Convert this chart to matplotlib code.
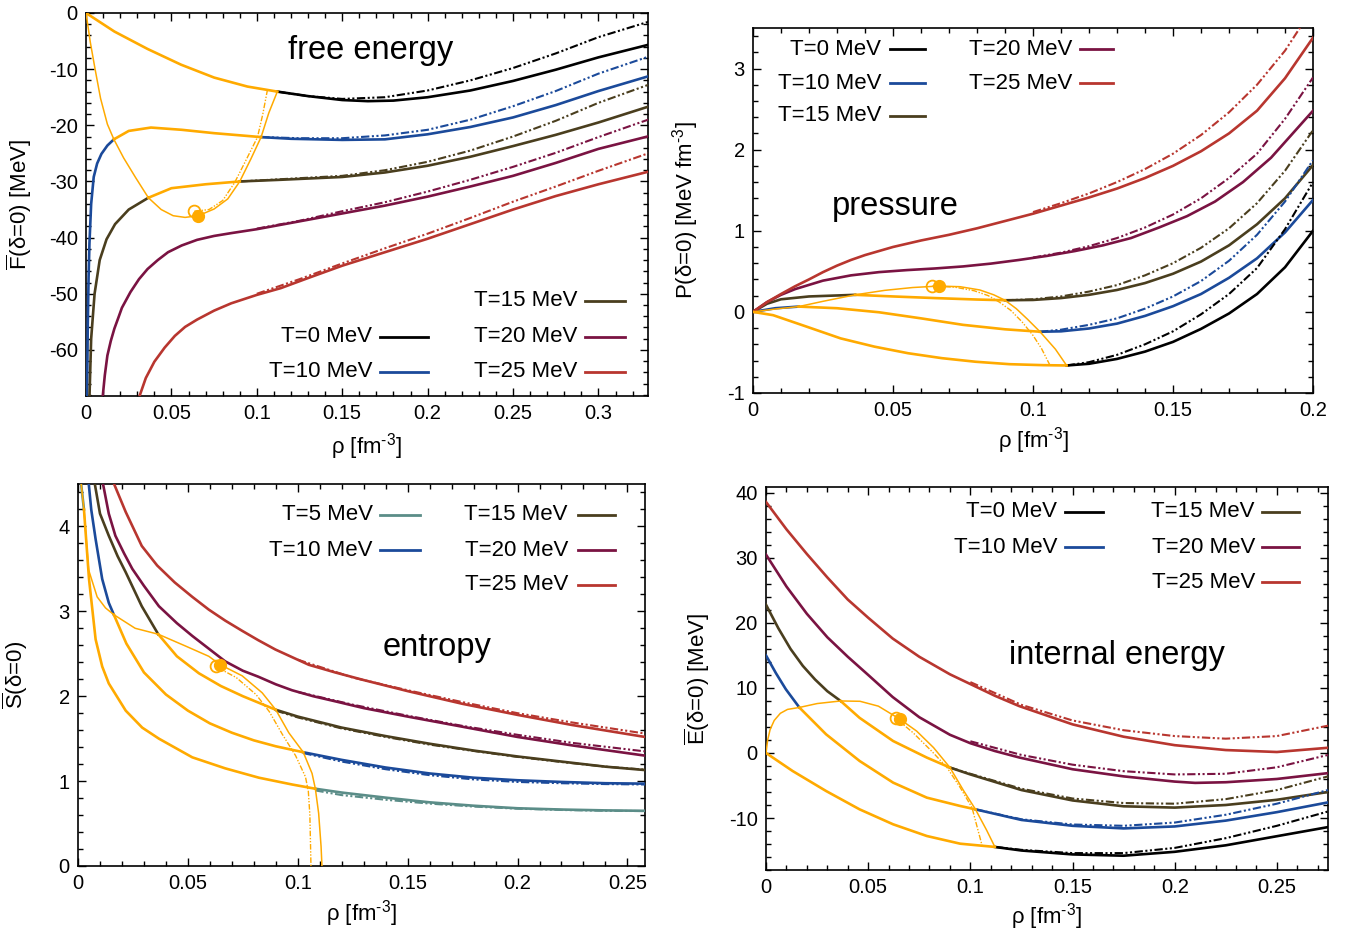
import numpy as np
from matplotlib import pyplot as plt
from matplotlib.ticker import MultipleLocator, FuncFormatter

plt.rcParams["font.family"] = ["Liberation Sans", "DejaVu Sans"]
plt.rcParams["mathtext.fontset"] = "custom"
plt.rcParams["mathtext.rm"] = "Liberation Sans"
plt.rcParams["mathtext.it"] = "Liberation Sans:italic"
plt.rcParams["axes.unicode_minus"] = False

# %% data
# spinodal switch densities per temperature (orange inside)
spin_T = [0, 5, 10, 15]
spin_lo = [0.0, 0.0027, 0.0163, 0.0365]
spin_hi = [0.112, 0.108, 0.1025, 0.09]

# ---- free energy
F_T0_rho = [0, 0.0166, 0.036, 0.0556, 0.075, 0.0945, 0.112, 0.13, 0.15, 0.165, 0.18, 0.2, 0.225, 0.25, 0.275, 0.3, 0.33]
F_T0 = [0, -3.3, -6.4, -9.2, -11.5, -13.1, -14.0, -14.8, -15.5, -15.7, -15.6, -15.0, -13.8, -12.1, -10.1, -7.9, -5.6]
F_T0_alt_rho = [0.112, 0.13, 0.15, 0.175, 0.2, 0.225, 0.25, 0.275, 0.3, 0.33]
F_T0_alt = [-14.0, -14.8, -15.3, -15.0, -13.8, -12.0, -9.8, -7.2, -4.3, -1.5]

F_T10_rho = [0.0006, 0.001, 0.0015, 0.002, 0.003, 0.0045, 0.0065, 0.009, 0.0125, 0.0163, 0.025, 0.038, 0.056, 0.075,
             0.1025, 0.12, 0.15, 0.175, 0.2, 0.225, 0.25, 0.275, 0.3, 0.33]
F_T10 = [-68.5, -56, -47, -41, -34, -29.2, -26.8, -25.1, -23.6, -22.5, -21.0, -20.4, -20.8, -21.4,
         -22.1, -22.4, -22.6, -22.5, -21.6, -20.3, -18.6, -16.4, -13.9, -11.2]
F_T10_alt_rho = [0.1025, 0.125, 0.15, 0.175, 0.2, 0.225, 0.25, 0.275, 0.3, 0.33]
F_T10_alt = [-22.1, -22.3, -22.3, -21.8, -20.8, -19.0, -16.6, -13.9, -10.8, -7.7]

F_T15_rho = [0.002, 0.003, 0.005, 0.008, 0.012, 0.017, 0.025, 0.0365, 0.05, 0.07, 0.09, 0.114, 0.15, 0.175, 0.2,
             0.225, 0.25, 0.275, 0.3, 0.33]
F_T15 = [-68.5, -58, -50, -44, -40.3, -37.6, -35.0, -32.9, -31.2, -30.5, -30.0, -29.7, -29.2, -28.4, -27.2,
         -25.6, -23.7, -21.7, -19.5, -16.6]
F_T15_alt_rho = [0.09, 0.114, 0.15, 0.175, 0.2, 0.225, 0.25, 0.275, 0.3, 0.33]
F_T15_alt = [-30.0, -29.6, -29.0, -28.0, -26.5, -24.5, -22.0, -19.2, -16.0, -12.7]

F_T20_rho = [0.0097, 0.011, 0.0125, 0.0145, 0.0166, 0.019, 0.021, 0.026, 0.031, 0.036, 0.042, 0.048, 0.056, 0.065,
             0.075, 0.085, 0.1, 0.125, 0.15, 0.175, 0.2, 0.225, 0.25, 0.275, 0.3, 0.33]
F_T20 = [-68.5, -64.5, -61, -58.4, -56.2, -54.2, -52.5, -49.7, -47.4, -45.6, -44.0, -42.6, -41.4, -40.4,
         -39.7, -39.2, -38.5, -37.1, -35.7, -34.3, -32.7, -30.9, -29.0, -26.7, -24.2, -21.9]
F_T20_alt_rho = [0.1, 0.125, 0.15, 0.175, 0.2, 0.225, 0.25, 0.275, 0.3, 0.33]
F_T20_alt = [-38.4, -37.0, -35.3, -33.7, -31.8, -29.7, -27.4, -24.9, -22.1, -18.9]

F_T25_rho = [0.031, 0.035, 0.04, 0.046, 0.052, 0.058, 0.065, 0.075, 0.085, 0.1, 0.114, 0.13, 0.15, 0.175, 0.2, 0.225,
             0.25, 0.275, 0.3, 0.33]
F_T25 = [-68.5, -65, -62.1, -59.6, -57.5, -55.9, -54.6, -53.0, -51.7, -50.2, -49.0, -47.2, -45.0, -42.6, -40.2,
         -37.6, -35.0, -32.6, -30.5, -28.2]
F_T25_alt_rho = [0.1, 0.125, 0.15, 0.175, 0.2, 0.225, 0.25, 0.275, 0.3, 0.33]
F_T25_alt = [-50.0, -47.4, -44.6, -41.9, -39.3, -36.5, -33.6, -30.9, -28.1, -24.9]

F_spin_rho = [0, 0.0025, 0.0053, 0.0085, 0.0125, 0.0163, 0.022, 0.029, 0.0365, 0.044, 0.051, 0.058, 0.0657,
              0.075, 0.083, 0.09, 0.0965, 0.1025, 0.107, 0.112]
F_spin = [0, -5.2, -10, -15.2, -19.8, -22.5, -25.8, -29.3, -32.9, -35.0, -36.1, -36.4, -36.1,
          -34.9, -33.1, -30.0, -26.0, -22.1, -17.8, -14.0]
F_spin_alt_rho = [0.0634, 0.072, 0.08, 0.087, 0.0935, 0.1004, 0.1035, 0.1062]
F_spin_alt = [-35.3, -35.0, -33.4, -30.2, -26.3, -22.1, -18.0, -13.7]
F_crit = [0.0657, -36.1]
F_crit_alt = [0.0634, -35.3]

# ---- pressure
P_T0_rho = [0, 0.0072, 0.0193, 0.0313, 0.0434, 0.0554, 0.0675, 0.0795, 0.0916, 0.1036, 0.112, 0.12, 0.13, 0.14,
            0.15, 0.16, 0.17, 0.18, 0.19, 0.2]
P_T0 = [0, -0.041, -0.184, -0.327, -0.429, -0.51, -0.571, -0.615, -0.645, -0.657, -0.661, -0.64, -0.58, -0.49,
        -0.37, -0.21, -0.02, 0.22, 0.55, 1.0]
P_T0_alt_rho = [0.112, 0.12, 0.13, 0.14, 0.15, 0.16, 0.17, 0.18, 0.19, 0.2]
P_T0_alt = [-0.661, -0.62, -0.53, -0.4, -0.24, -0.03, 0.22, 0.54, 1.02, 1.6]

P_T10_rho = [0, 0.008, 0.0163, 0.03, 0.045, 0.06, 0.075, 0.09, 0.1025, 0.11, 0.12, 0.13, 0.14, 0.15, 0.16, 0.17,
             0.18, 0.19, 0.2]
P_T10 = [0, 0.045, 0.065, 0.045, -0.005, -0.08, -0.16, -0.215, -0.245, -0.24, -0.205, -0.145, -0.05, 0.07, 0.22,
         0.42, 0.66, 0.98, 1.38]
P_T10_alt_rho = [0.1025, 0.11, 0.12, 0.13, 0.14, 0.15, 0.16, 0.17, 0.18, 0.19, 0.2]
P_T10_alt = [-0.245, -0.22, -0.16, -0.08, 0.04, 0.19, 0.38, 0.63, 0.95, 1.36, 1.87]

P_T15_rho = [0, 0.005, 0.01, 0.02, 0.0365, 0.05, 0.065, 0.08, 0.09, 0.1, 0.11, 0.12, 0.13, 0.14, 0.15, 0.16,
             0.17, 0.18, 0.19, 0.2]
P_T15 = [0, 0.1, 0.155, 0.19, 0.21, 0.19, 0.17, 0.152, 0.143, 0.147, 0.17, 0.21, 0.27, 0.355, 0.47, 0.62,
         0.82, 1.08, 1.4, 1.81]
P_T15_alt_rho = [0.09, 0.1, 0.11, 0.12, 0.13, 0.14, 0.15, 0.16, 0.17, 0.18, 0.19, 0.2]
P_T15_alt = [0.143, 0.155, 0.19, 0.25, 0.33, 0.45, 0.6, 0.79, 1.03, 1.34, 1.74, 2.24]

P_T20_rho = [0, 0.005, 0.01, 0.015, 0.025, 0.035, 0.045, 0.055, 0.065, 0.075, 0.085, 0.095, 0.105, 0.115, 0.125,
             0.135, 0.145, 0.155, 0.165, 0.175, 0.185, 0.2]
P_T20 = [0, 0.12, 0.21, 0.28, 0.385, 0.45, 0.49, 0.515, 0.535, 0.56, 0.595, 0.64, 0.69, 0.75, 0.82,
         0.91, 1.04, 1.18, 1.36, 1.6, 1.9, 2.48]
P_T20_alt_rho = [0.1, 0.11, 0.12, 0.13, 0.14, 0.15, 0.16, 0.17, 0.18, 0.19, 0.2]
P_T20_alt = [0.67, 0.73, 0.81, 0.91, 1.04, 1.2, 1.4, 1.65, 1.95, 2.38, 2.89]

P_T25_rho = [0, 0.005, 0.01, 0.015, 0.02, 0.025, 0.03, 0.035, 0.04, 0.05, 0.06, 0.07, 0.08, 0.09, 0.1, 0.11, 0.12,
             0.13, 0.14, 0.15, 0.16, 0.17, 0.18, 0.19, 0.2]
P_T25 = [0, 0.12, 0.22, 0.315, 0.4, 0.49, 0.57, 0.64, 0.7, 0.8, 0.88, 0.95, 1.03, 1.12, 1.21, 1.31, 1.41,
         1.52, 1.65, 1.8, 1.98, 2.2, 2.48, 2.88, 3.38]
P_T25_alt_rho = [0.1, 0.11, 0.12, 0.13, 0.14, 0.15, 0.16, 0.17, 0.18, 0.19, 0.2]
P_T25_alt = [1.23, 1.34, 1.46, 1.6, 1.76, 1.95, 2.18, 2.46, 2.8, 3.22, 3.75]

P_spin_rho = [0, 0.008, 0.0163, 0.025, 0.0365, 0.047, 0.057, 0.0663, 0.074, 0.081, 0.086, 0.09, 0.094, 0.098,
              0.1025, 0.108, 0.112]
P_spin = [0, 0.035, 0.065, 0.13, 0.21, 0.265, 0.3, 0.318, 0.31, 0.27, 0.21, 0.143, 0.04, -0.09,
          -0.245, -0.46, -0.661]
P_spin_alt_rho = [0.0639, 0.072, 0.079, 0.084, 0.088, 0.092, 0.096, 0.1, 0.103, 0.106]
P_spin_alt = [0.316, 0.305, 0.26, 0.2, 0.12, 0.02, -0.12, -0.29, -0.45, -0.655]
P_crit = [0.0663, 0.318]
P_crit_alt = [0.0639, 0.316]

# ---- entropy
S_T5_rho = [0.0012, 0.0027, 0.005, 0.008, 0.011, 0.014, 0.0217, 0.0292, 0.0368, 0.052, 0.067, 0.0823, 0.0974,
            0.108, 0.12, 0.14, 0.16, 0.18, 0.2, 0.22, 0.24, 0.258]
S_T5 = [4.55, 4.2, 3.38, 2.67, 2.35, 2.15, 1.83, 1.63, 1.5, 1.28, 1.15, 1.04, 0.96,
        0.91, 0.865, 0.805, 0.75, 0.71, 0.68, 0.665, 0.655, 0.65]
S_T5_alt_rho = [0.108, 0.12, 0.14, 0.16, 0.18, 0.2, 0.22, 0.24, 0.258]
S_T5_alt = [0.89, 0.835, 0.78, 0.735, 0.7, 0.675, 0.66, 0.65, 0.647]

S_T10_rho = [0.0047, 0.006, 0.008, 0.011, 0.014, 0.0163, 0.022, 0.03, 0.04, 0.05, 0.06, 0.07, 0.08, 0.09, 0.1025,
             0.12, 0.14, 0.16, 0.18, 0.2, 0.22, 0.24, 0.258]
S_T10 = [4.55, 4.2, 3.85, 3.38, 3.1, 2.96, 2.62, 2.28, 2.02, 1.83, 1.68, 1.57, 1.48, 1.41, 1.34,
         1.25, 1.16, 1.09, 1.04, 1.01, 0.99, 0.975, 0.97]
S_T10_alt_rho = [0.1025, 0.12, 0.14, 0.16, 0.18, 0.2, 0.22, 0.24, 0.258]
S_T10_alt = [1.33, 1.23, 1.14, 1.07, 1.02, 0.99, 0.975, 0.965, 0.96]

S_T15_rho = [0.0073, 0.01, 0.014, 0.018, 0.0217, 0.029, 0.0365, 0.045, 0.055, 0.065, 0.075, 0.09, 0.1, 0.12, 0.14,
             0.16, 0.18, 0.2, 0.22, 0.24, 0.258]
S_T15 = [4.55, 4.15, 3.89, 3.65, 3.46, 3.06, 2.73, 2.47, 2.27, 2.12, 2.0, 1.84, 1.76, 1.63, 1.53,
         1.44, 1.36, 1.29, 1.23, 1.17, 1.13]
S_T15_alt_rho = [0.09, 0.1, 0.12, 0.14, 0.16, 0.18, 0.2, 0.22, 0.24, 0.258]
S_T15_alt = [1.83, 1.75, 1.62, 1.52, 1.43, 1.355, 1.285, 1.225, 1.17, 1.135]

S_T20_rho = [0.011, 0.014, 0.017, 0.021, 0.0247, 0.03, 0.0368, 0.045, 0.052, 0.06, 0.067, 0.075, 0.082, 0.09,
             0.0974, 0.107, 0.117, 0.13, 0.15, 0.175, 0.2, 0.225, 0.258]
S_T20 = [4.55, 4.15, 3.89, 3.68, 3.5, 3.3, 3.06, 2.86, 2.71, 2.55, 2.41, 2.3, 2.23, 2.14,
         2.07, 2.0, 1.94, 1.86, 1.76, 1.64, 1.52, 1.42, 1.30]
S_T20_alt_rho = [0.1, 0.125, 0.15, 0.175, 0.2, 0.225, 0.258]
S_T20_alt = [2.05, 1.9, 1.77, 1.65, 1.545, 1.45, 1.35]

S_T25_rho = [0.0156, 0.0217, 0.029, 0.036, 0.044, 0.052, 0.0595, 0.067, 0.0747, 0.082, 0.0898, 0.0974, 0.105,
             0.117, 0.13, 0.15, 0.175, 0.2, 0.225, 0.258]
S_T25 = [4.55, 4.17, 3.77, 3.54, 3.34, 3.17, 3.02, 2.89, 2.77, 2.66, 2.55, 2.46, 2.37,
         2.28, 2.19, 2.06, 1.91, 1.78, 1.66, 1.52]
S_T25_alt_rho = [0.1, 0.125, 0.15, 0.175, 0.2, 0.225, 0.258]
S_T25_alt = [2.43, 2.22, 2.07, 1.93, 1.8, 1.69, 1.56]

S_spin_rho = [0.001, 0.0027, 0.0048, 0.0087, 0.0125, 0.0163, 0.026, 0.0365, 0.049, 0.0595, 0.0648, 0.0747, 0.0838,
              0.09, 0.0959, 0.1025, 0.1065, 0.108, 0.1095, 0.1106, 0.111]
S_spin = [4.6, 4.2, 3.49, 3.17, 3.04, 2.96, 2.8, 2.73, 2.59, 2.47, 2.37, 2.24, 2.04,
          1.84, 1.57, 1.34, 1.09, 0.91, 0.62, 0.23, 0.0]
S_spin_alt_rho = [0.0626, 0.072, 0.081, 0.087, 0.093, 0.099, 0.1035, 0.1048, 0.1055, 0.1058, 0.106]
S_spin_alt = [2.35, 2.22, 2.02, 1.82, 1.55, 1.3, 1.05, 0.88, 0.6, 0.25, 0.0]
S_crit = [0.0648, 2.37]
S_crit_alt = [0.0626, 2.35]

# ---- internal energy
E_T0_rho = [0, 0.013, 0.0294, 0.0458, 0.0622, 0.0787, 0.095, 0.112, 0.125, 0.15, 0.175, 0.2, 0.225, 0.25, 0.275]
E_T0 = [0, -2.77, -5.85, -8.67, -10.97, -12.77, -13.95, -14.45, -15.0, -15.6, -15.8, -15.2, -14.2, -12.8, -11.4]
E_T0_alt_rho = [0.112, 0.125, 0.15, 0.175, 0.2, 0.225, 0.25, 0.275]
E_T0_alt = [-14.45, -14.9, -15.4, -15.4, -14.6, -13.1, -11.2, -9.0]

E_T10_rho = [0, 0.0048, 0.0097, 0.0163, 0.0294, 0.0458, 0.0622, 0.0787, 0.095, 0.1025, 0.125, 0.15, 0.175, 0.2,
             0.225, 0.25, 0.275]
E_T10 = [15.0, 12.3, 9.8, 7.0, 2.87, -1.23, -4.56, -6.87, -8.15, -8.67, -10.3, -11.2, -11.6, -11.3,
         -10.4, -9.1, -7.6]
E_T10_alt_rho = [0.1025, 0.125, 0.15, 0.175, 0.2, 0.225, 0.25, 0.275]
E_T10_alt = [-8.67, -10.2, -11.0, -11.2, -10.7, -9.5, -7.8, -5.7]

E_T15_rho = [0, 0.006, 0.012, 0.018, 0.024, 0.03, 0.0365, 0.0458, 0.0622, 0.0787, 0.09, 0.1, 0.125, 0.15, 0.175,
             0.2, 0.225, 0.25, 0.275]
E_T15 = [22.8, 19.2, 16.0, 13.4, 11.3, 9.5, 8.0, 5.4, 1.84, -0.71, -2.24, -3.3, -5.7, -7.3, -8.2,
         -8.4, -8.0, -7.2, -6.0]
E_T15_alt_rho = [0.09, 0.1, 0.125, 0.15, 0.175, 0.2, 0.225, 0.25, 0.275]
E_T15_alt = [-2.24, -3.2, -5.5, -7.0, -7.7, -7.8, -7.1, -5.7, -3.6]

E_T20_rho = [0, 0.01, 0.02, 0.03, 0.04, 0.05, 0.062, 0.075, 0.09, 0.1, 0.112, 0.124, 0.15, 0.175, 0.2, 0.21,
             0.225, 0.25, 0.275]
E_T20 = [30.5, 25.6, 21.4, 17.8, 14.8, 12.0, 8.6, 5.5, 2.8, 1.5, 0.3, -0.7, -2.5, -3.6, -4.4, -4.6,
         -4.5, -4.0, -3.1]
E_T20_alt_rho = [0.1, 0.125, 0.15, 0.175, 0.2, 0.225, 0.25, 0.275]
E_T20_alt = [1.8, -0.3, -1.8, -2.8, -3.3, -3.2, -2.2, -0.3]

E_T25_rho = [0, 0.01, 0.02, 0.03, 0.04, 0.05, 0.062, 0.075, 0.09, 0.1, 0.112, 0.124, 0.15, 0.175, 0.2, 0.225,
             0.25, 0.275]
E_T25 = [38.6, 34.4, 30.6, 27.0, 23.6, 20.8, 17.6, 14.8, 12.1, 10.6, 8.8, 7.2, 4.4, 2.5, 1.2, 0.45,
         0.15, 0.8]
E_T25_alt_rho = [0.1, 0.125, 0.15, 0.175, 0.2, 0.225, 0.25, 0.275]
E_T25_alt = [10.9, 7.4, 5.0, 3.5, 2.6, 2.2, 2.6, 4.2]

E_spin_rho = [0, 0.0008, 0.002, 0.004, 0.007, 0.0105, 0.0163, 0.025, 0.0365, 0.046, 0.055, 0.0655, 0.0737, 0.082,
              0.09, 0.0967, 0.1025, 0.108, 0.112]
E_spin = [0, 2.0, 3.6, 5.0, 6.1, 6.7, 7.0, 7.6, 8.0, 7.95, 7.2, 5.2, 3.37, 0.82,
          -2.24, -5.8, -8.67, -11.9, -14.45]
E_spin_alt_rho = [0.0635, 0.072, 0.081, 0.0885, 0.095, 0.1008, 0.1057]
E_spin_alt = [5.35, 3.1, 0.3, -2.2, -5.3, -8.4, -14.2]
E_crit = [0.0655, 5.2]
E_crit_alt = [0.0635, 5.35]

# %% styles
T_colors = {0: "#000000", 5: "#5b8d88", 10: "#1b4a9a", 15: "#4a3e1e", 20: "#7a1342", 25: "#b8362f"}
ORANGE = "#ffaa00"
LW = 1.9
ALT_DASH = [4, 1.2, 1, 1.2, 1, 1.2]
XLABEL = "ρ [fm$^{\\rm \u2010 3}$]"


def draw_curve(ax, rho, val, T):
    rho = np.array(rho)
    val = np.array(val)
    c = T_colors[T]
    if T in spin_T:
        i = spin_T.index(T)
        lo, hi = spin_lo[i], spin_hi[i]
        low = rho <= lo
        mid = (rho >= lo) & (rho <= hi)
        high = rho >= hi
        if low.sum() > 1:
            ax.plot(rho[low], val[low], color=c, lw=LW, zorder=3)
        ax.plot(rho[high], val[high], color=c, lw=LW, zorder=3)
        ax.plot(rho[mid], val[mid], color=ORANGE, lw=LW, zorder=5)
    else:
        ax.plot(rho, val, color=c, lw=LW, zorder=3)


def draw_alt(ax, rho, val, T):
    ax.plot(rho, val, color=T_colors[T], lw=1.5, dashes=ALT_DASH, zorder=4)


def draw_spinodal(ax, rho, val, rho_alt, val_alt, crit, crit_alt):
    ax.plot(rho, val, color=ORANGE, lw=1.1, zorder=6)
    ax.plot(rho_alt, val_alt, color=ORANGE, lw=1.0, dashes=ALT_DASH, zorder=6)
    ax.plot(crit_alt[0], crit_alt[1], "o", ms=8.5, mfc="none", mec=ORANGE, mew=1.3, zorder=7)
    ax.plot(crit[0], crit[1], "o", ms=8.5, color=ORANGE, zorder=7)


def setup(ax, xlim, ylim, xmaj, xmin, ymaj, ymin):
    ax.set_xlim(*xlim)
    ax.set_ylim(*ylim)
    ax.xaxis.set_major_locator(MultipleLocator(xmaj))
    ax.xaxis.set_minor_locator(MultipleLocator(xmin))
    ax.yaxis.set_major_locator(MultipleLocator(ymaj))
    ax.yaxis.set_minor_locator(MultipleLocator(ymin))
    fmt = FuncFormatter(lambda v, p: "%g" % (round(v, 6) + 0.0))
    ax.xaxis.set_major_formatter(fmt)
    ax.yaxis.set_major_formatter(fmt)
    ax.tick_params(which="both", direction="in", top=True, right=True, labelsize=14.5, width=1.0)
    ax.tick_params(which="major", length=6, pad=6)
    ax.tick_params(which="minor", length=3.5)
    for s in ax.spines.values():
        s.set_linewidth(1.2)


def legend_entry(ax, x_text, x0, x1, y, T):
    ax.text(x_text, y, "T=%d MeV" % T, transform=ax.transAxes, ha="right", va="center", fontsize=16)
    ax.plot([x0, x1], [y, y], transform=ax.transAxes, color=T_colors[T], lw=2.0)


def legend(ax, cols, rows, entries):
    # cols: [(text_right, line_start, line_end), ...], entries: (col, row, T)
    for col, row, T in entries:
        xt, x0, x1 = cols[col]
        legend_entry(ax, xt, x0, x1, rows[row], T)


fig = plt.figure(figsize=(13.57, 9.35), dpi=100)

# %% free energy
ax = fig.add_axes([0.0634, 0.5765, 0.4141, 0.4096])
for rho, val, T in [(F_T0_rho, F_T0, 0), (F_T10_rho, F_T10, 10), (F_T15_rho, F_T15, 15),
                    (F_T20_rho, F_T20, 20), (F_T25_rho, F_T25, 25)]:
    draw_curve(ax, rho, val, T)
for rho, val, T in [(F_T0_alt_rho, F_T0_alt, 0), (F_T10_alt_rho, F_T10_alt, 10), (F_T15_alt_rho, F_T15_alt, 15),
                    (F_T20_alt_rho, F_T20_alt, 20), (F_T25_alt_rho, F_T25_alt, 25)]:
    draw_alt(ax, rho, val, T)
draw_spinodal(ax, F_spin_rho, F_spin, F_spin_alt_rho, F_spin_alt, F_crit, F_crit_alt)
setup(ax, (0, 0.329), (-68.2, 0), 0.05, 0.01, 10, 2)
ax.set_xlabel(XLABEL, fontsize=16)
ax.set_ylabel(r"$\overline{\rm F}$(δ=0) [MeV]", fontsize=16)
ax.xaxis.set_label_coords(0.5, -0.092)
ax.yaxis.set_label_coords(-0.093, 0.5)
ax.text(0.507, 0.903, "free energy", transform=ax.transAxes, ha="center", va="center", fontsize=23.5)
legend(ax, [(0.509, 0.523, 0.609), (0.874, 0.888, 0.959)], [0.248, 0.154, 0.063],
       [(1, 0, 15), (0, 1, 0), (1, 1, 20), (0, 2, 10), (1, 2, 25)])

# %% pressure
ax = fig.add_axes([0.5549, 0.5797, 0.4127, 0.3904])
for rho, val, T in [(P_T0_rho, P_T0, 0), (P_T10_rho, P_T10, 10), (P_T15_rho, P_T15, 15),
                    (P_T20_rho, P_T20, 20), (P_T25_rho, P_T25, 25)]:
    draw_curve(ax, rho, val, T)
for rho, val, T in [(P_T0_alt_rho, P_T0_alt, 0), (P_T10_alt_rho, P_T10_alt, 10), (P_T15_alt_rho, P_T15_alt, 15),
                    (P_T20_alt_rho, P_T20_alt, 20), (P_T25_alt_rho, P_T25_alt, 25)]:
    draw_alt(ax, rho, val, T)
draw_spinodal(ax, P_spin_rho, P_spin, P_spin_alt_rho, P_spin_alt, P_crit, P_crit_alt)
setup(ax, (0, 0.2), (-1, 3.5), 0.05, 0.01, 1, 0.2)
ax.set_xlabel(XLABEL, fontsize=16)
ax.set_ylabel("P(δ=0) [MeV fm$^{\\rm \u2010 3}$]", fontsize=16)
ax.xaxis.set_label_coords(0.5, -0.088)
ax.yaxis.set_label_coords(-0.092, 0.5)
ax.text(0.254, 0.510, "pressure", transform=ax.transAxes, ha="center", va="center", fontsize=23.5)
legend(ax, [(0.229, 0.245, 0.307), (0.57, 0.584, 0.643)], [0.942, 0.849, 0.759],
       [(0, 0, 0), (1, 0, 20), (0, 1, 10), (1, 1, 25), (0, 2, 15)])

# %% entropy
ax = fig.add_axes([0.0575, 0.0738, 0.4178, 0.4086])
for rho, val, T in [(S_T5_rho, S_T5, 5), (S_T10_rho, S_T10, 10), (S_T15_rho, S_T15, 15),
                    (S_T20_rho, S_T20, 20), (S_T25_rho, S_T25, 25)]:
    draw_curve(ax, rho, val, T)
for rho, val, T in [(S_T5_alt_rho, S_T5_alt, 5), (S_T10_alt_rho, S_T10_alt, 10), (S_T15_alt_rho, S_T15_alt, 15),
                    (S_T20_alt_rho, S_T20_alt, 20), (S_T25_alt_rho, S_T25_alt, 25)]:
    draw_alt(ax, rho, val, T)
draw_spinodal(ax, S_spin_rho, S_spin, S_spin_alt_rho, S_spin_alt, S_crit, S_crit_alt)
setup(ax, (0, 0.258), (0, 4.5), 0.05, 0.01, 1, 0.2)
ax.set_xlabel(XLABEL, fontsize=16)
ax.set_ylabel(r"$\overline{\rm S}$(δ=0)", fontsize=16)
ax.xaxis.set_label_coords(0.5, -0.085)
ax.yaxis.set_label_coords(-0.085, 0.5)
ax.text(0.633, 0.573, "entropy", transform=ax.transAxes, ha="center", va="center", fontsize=23.5)
legend(ax, [(0.52, 0.533, 0.603), (0.864, 0.882, 0.947)], [0.919, 0.827, 0.736],
       [(0, 0, 5), (1, 0, 15), (0, 1, 10), (1, 1, 20), (1, 2, 25)])

# %% internal energy
ax = fig.add_axes([0.5645, 0.0695, 0.4141, 0.4096])
for rho, val, T in [(E_T0_rho, E_T0, 0), (E_T10_rho, E_T10, 10), (E_T15_rho, E_T15, 15),
                    (E_T20_rho, E_T20, 20), (E_T25_rho, E_T25, 25)]:
    draw_curve(ax, rho, val, T)
for rho, val, T in [(E_T0_alt_rho, E_T0_alt, 0), (E_T10_alt_rho, E_T10_alt, 10), (E_T15_alt_rho, E_T15_alt, 15),
                    (E_T20_alt_rho, E_T20_alt, 20), (E_T25_alt_rho, E_T25_alt, 25)]:
    draw_alt(ax, rho, val, T)
draw_spinodal(ax, E_spin_rho, E_spin, E_spin_alt_rho, E_spin_alt, E_crit, E_crit_alt)
setup(ax, (0, 0.275), (-18, 40.9), 0.05, 0.01, 10, 2)
ax.set_xlabel(XLABEL, fontsize=16)
ax.set_ylabel(r"$\overline{\rm E}$(δ=0) [MeV]", fontsize=16)
ax.xaxis.set_label_coords(0.5, -0.08)
ax.yaxis.set_label_coords(-0.096, 0.5)
ax.text(0.625, 0.561, "internal energy", transform=ax.transAxes, ha="center", va="center", fontsize=23.5)
legend(ax, [(0.518, 0.532, 0.6), (0.870, 0.883, 0.948)], [0.935, 0.843, 0.752],
       [(0, 0, 0), (1, 0, 15), (0, 1, 10), (1, 1, 20), (1, 2, 25)])

fig.savefig("out.png", dpi=100)
